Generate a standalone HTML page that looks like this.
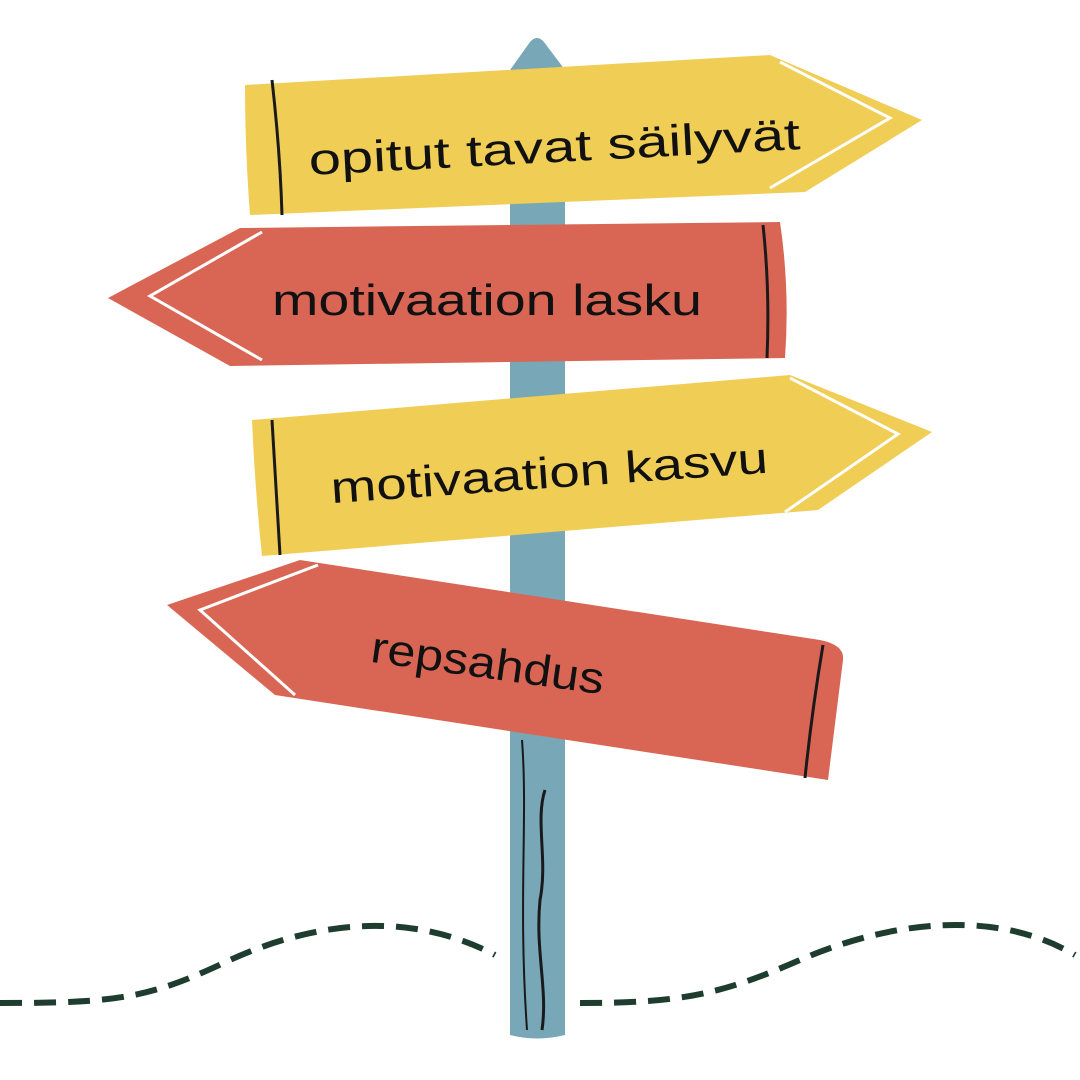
<!DOCTYPE html>
<html><head><meta charset="utf-8"><style>
html,body{margin:0;padding:0;background:#fff;width:1080px;height:1080px;overflow:hidden}
text{font-family:"Liberation Sans","DejaVu Sans",sans-serif;fill:#111}
</style></head><body>
<svg width="1080" height="1080" viewBox="0 0 1080 1080" xmlns="http://www.w3.org/2000/svg">
<path d="M0,1003 C120,1003 150,998 230,960 C300,928 400,905 495,955" fill="none" stroke="#1E3D2F" stroke-width="6" stroke-dasharray="22 12"/>
<path d="M580,1003 C680,1003 720,995 800,960 C880,925 990,905 1075,955" fill="none" stroke="#1E3D2F" stroke-width="6" stroke-dasharray="22 12"/>
<path d="M510,70 L530,42 Q537,34 544,42 L565,70 L565,1035 Q537,1042 510,1035 Z" fill="#78A7B8"/>
<path d="M545,790 C535,820 548,860 540,900 C535,950 548,990 542,1030" stroke="#1a1a1a" stroke-width="3" fill="none"/>
<path d="M522,740 C528,820 518,900 527,1030" stroke="#1a1a1a" stroke-width="2" fill="none"/>
<path d="M245,85 L770,55 L922,120 L805,192 L250,215 Q245,150 245,85 Z" fill="#F0CD55"/>
<path d="M272,80 Q280,150 282,215" stroke="#1a1a1a" stroke-width="3" fill="none"/>
<path d="M780,62 L890,118 L770,188" stroke="#fff" stroke-width="3" fill="none"/>
<text x="308" y="162" font-size="44" textLength="492" lengthAdjust="spacingAndGlyphs" transform="rotate(-3 555 140)">opitut tavat säilyvät</text>
<path d="M108,298 L240,228 L780,222 Q790,290 785,358 L230,366 Z" fill="#D96655"/>
<path d="M763,225 Q770,290 767,358" stroke="#1a1a1a" stroke-width="3" fill="none"/>
<path d="M262,232 L150,296 L262,360" stroke="#fff" stroke-width="3" fill="none"/>
<text x="272" y="315" font-size="44" textLength="430" lengthAdjust="spacingAndGlyphs">motivaation lasku</text>
<path d="M252,420 L790,375 L932,432 L818,510 L262,556 Q255,490 252,420 Z" fill="#F0CD55"/>
<path d="M272,420 Q276,490 280,555" stroke="#1a1a1a" stroke-width="3" fill="none"/>
<path d="M790,378 L898,434 L785,512" stroke="#fff" stroke-width="3" fill="none"/>
<text x="330" y="488" font-size="44" textLength="438" lengthAdjust="spacingAndGlyphs" transform="rotate(-4 548 470)">motivaation kasvu</text>
<path d="M167,605 L300,560 L820,640 Q845,645 843,660 L828,780 L275,695 Z" fill="#D96655"/>
<path d="M823,645 Q812,710 805,778" stroke="#1a1a1a" stroke-width="3" fill="none"/>
<path d="M318,565 L200,610 L295,695" stroke="#fff" stroke-width="3" fill="none"/>
<text x="370" y="678" font-size="44" textLength="235" lengthAdjust="spacingAndGlyphs" transform="rotate(8 487 665)">repsahdus</text>
</svg>
</body></html>
